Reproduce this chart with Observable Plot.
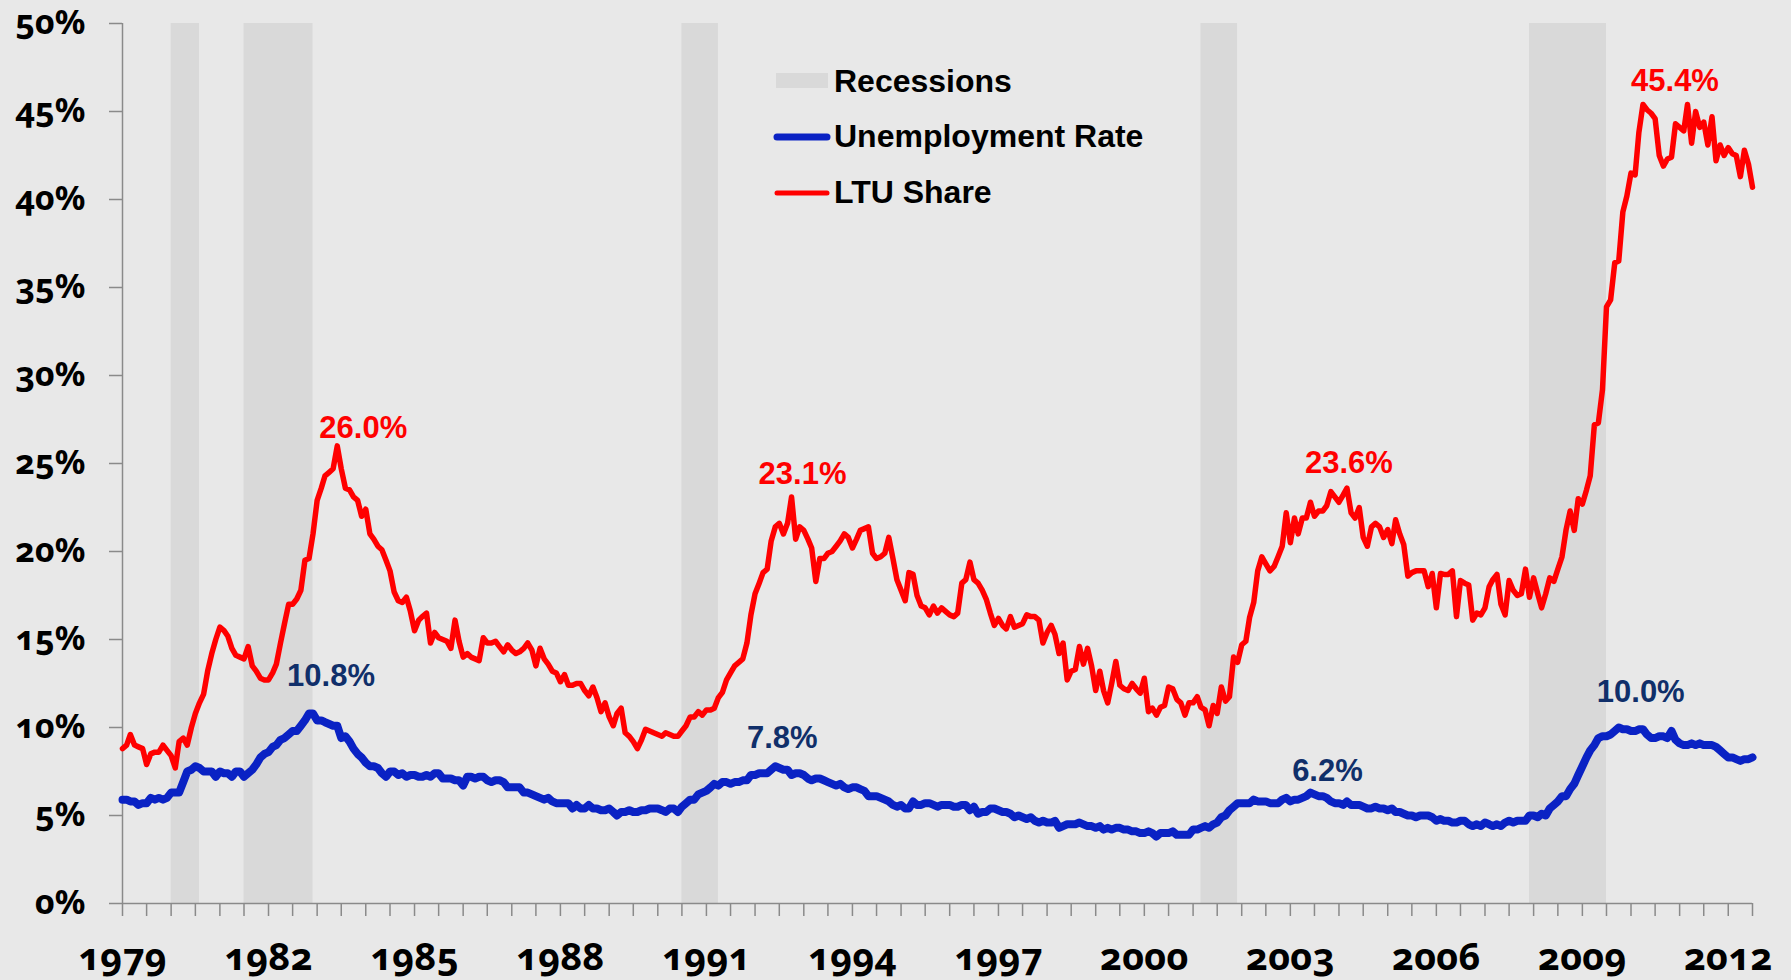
<!DOCTYPE html>
<html><head><meta charset="utf-8">
<script src="https://cdn.jsdelivr.net/npm/d3@7"></script>
<script src="https://cdn.jsdelivr.net/npm/@observablehq/plot@0.6"></script>
<style>
body{margin:0;background:#e8e8e8;}
#chart{position:relative;width:1791px;height:980px;overflow:hidden;}
#chart svg{display:block;}
g[aria-label="x-axis tick label"] text, g[aria-label="y-axis tick label"] text{font-variant-numeric:oldstyle-nums;font-feature-settings:"onum" 1;}
#legend{position:absolute;left:0;top:0;}
</style></head><body><div id="chart"></div>
<script>
// ---- data ----
const startMonth = "1979-01";
const endMonth = "2012-07";

// Unemployment rate (%), monthly Jan 1979 - Jul 2012
const unemploymentRate = [
  5.9,5.9,5.8,5.8,5.6,5.7,5.7,6.0,5.9,6.0,5.9,6.0,        // 1979
  6.3,6.3,6.3,6.9,7.5,7.6,7.8,7.7,7.5,7.5,7.5,7.2,        // 1980
  7.5,7.4,7.4,7.2,7.5,7.5,7.2,7.4,7.6,7.9,8.3,8.5,        // 1981
  8.6,8.9,9.0,9.3,9.4,9.6,9.8,9.8,10.1,10.4,10.8,10.8,    // 1982
  10.4,10.4,10.3,10.2,10.1,10.1,9.4,9.5,9.2,8.8,8.5,8.3,  // 1983
  8.0,7.8,7.8,7.7,7.4,7.2,7.5,7.5,7.3,7.4,7.2,7.3,        // 1984
  7.3,7.2,7.2,7.3,7.2,7.4,7.4,7.1,7.1,7.1,7.0,7.0,        // 1985
  6.7,7.2,7.2,7.1,7.2,7.2,7.0,6.9,7.0,7.0,6.9,6.6,        // 1986
  6.6,6.6,6.6,6.3,6.3,6.2,6.1,6.0,5.9,6.0,5.8,5.7,        // 1987
  5.7,5.7,5.7,5.4,5.6,5.4,5.4,5.6,5.4,5.4,5.3,5.3,        // 1988
  5.4,5.2,5.0,5.2,5.2,5.3,5.2,5.2,5.3,5.3,5.4,5.4,        // 1989
  5.4,5.3,5.2,5.4,5.4,5.2,5.5,5.7,5.9,5.9,6.2,6.3,        // 1990
  6.4,6.6,6.8,6.7,6.9,6.9,6.8,6.9,6.9,7.0,7.0,7.3,        // 1991
  7.3,7.4,7.4,7.4,7.6,7.8,7.7,7.6,7.6,7.3,7.4,7.4,        // 1992
  7.3,7.1,7.0,7.1,7.1,7.0,6.9,6.8,6.7,6.8,6.6,6.5,        // 1993
  6.6,6.6,6.5,6.4,6.1,6.1,6.1,6.0,5.9,5.8,5.6,5.5,        // 1994
  5.6,5.4,5.4,5.8,5.6,5.6,5.7,5.7,5.6,5.5,5.6,5.6,        // 1995
  5.6,5.5,5.5,5.6,5.6,5.3,5.5,5.1,5.2,5.2,5.4,5.4,        // 1996
  5.3,5.2,5.2,5.1,4.9,5.0,4.9,4.8,4.9,4.7,4.6,4.7,        // 1997
  4.6,4.6,4.7,4.3,4.4,4.5,4.5,4.5,4.6,4.5,4.4,4.4,        // 1998
  4.3,4.4,4.2,4.3,4.2,4.3,4.3,4.2,4.2,4.1,4.1,4.0,        // 1999
  4.0,4.1,4.0,3.8,4.0,4.0,4.0,4.1,3.9,3.9,3.9,3.9,        // 2000
  4.2,4.2,4.3,4.4,4.3,4.5,4.6,4.9,5.0,5.3,5.5,5.7,        // 2001
  5.7,5.7,5.7,5.9,5.8,5.8,5.8,5.7,5.7,5.7,5.9,6.0,        // 2002
  5.8,5.9,5.9,6.0,6.1,6.3,6.2,6.1,6.1,6.0,5.8,5.7,        // 2003
  5.7,5.6,5.8,5.6,5.6,5.6,5.5,5.4,5.4,5.5,5.4,5.4,        // 2004
  5.3,5.4,5.2,5.2,5.1,5.0,5.0,4.9,5.0,5.0,5.0,4.9,        // 2005
  4.7,4.8,4.7,4.7,4.6,4.6,4.7,4.7,4.5,4.4,4.5,4.4,        // 2006
  4.6,4.5,4.4,4.5,4.4,4.6,4.7,4.6,4.7,4.7,4.7,5.0,        // 2007
  5.0,4.9,5.1,5.0,5.4,5.6,5.8,6.1,6.1,6.5,6.8,7.3,        // 2008
  7.8,8.3,8.7,9.0,9.4,9.5,9.5,9.6,9.8,10.0,9.9,9.9,       // 2009
  9.8,9.8,9.9,9.9,9.6,9.4,9.4,9.5,9.5,9.4,9.8,9.3,        // 2010
  9.1,9.0,9.0,9.1,9.0,9.1,9.0,9.0,9.0,8.9,8.7,8.5,        // 2011
  8.3,8.3,8.2,8.1,8.2,8.2,8.3                             // 2012
];

// Long-term unemployed share of unemployed (%), monthly Jan 1979 - Jul 2012
const ltuShare = [
  8.8,9.0,9.6,9.0,8.9,8.8,7.9,8.5,8.6,8.6,9.0,8.7,               // 1979
  8.4,7.7,9.2,9.4,9.0,10.0,10.8,11.4,11.9,13.2,14.2,15.0,        // 1980
  15.7,15.5,15.2,14.5,14.1,14.0,13.9,14.6,13.5,13.2,12.8,12.7,   // 1981
  12.7,13.1,13.6,14.8,15.9,17.0,17.0,17.3,17.8,19.5,19.6,21.0,   // 1982
  22.9,23.6,24.3,24.5,24.7,26.0,24.7,23.6,23.5,23.1,22.9,22.0,   // 1983
  22.4,21.0,20.7,20.3,20.1,19.5,18.9,17.7,17.2,17.1,17.4,16.6,   // 1984
  15.5,16.1,16.3,16.5,14.8,15.4,15.1,15.0,14.9,14.5,16.1,14.9,   // 1985
  14.0,14.2,14.0,13.9,13.8,15.1,14.8,14.8,14.9,14.6,14.3,14.7,   // 1986
  14.4,14.2,14.3,14.5,14.8,14.4,13.5,14.5,13.9,13.6,13.2,13.1,   // 1987
  12.6,13.0,12.4,12.4,12.5,12.5,12.1,11.8,12.3,11.7,10.9,11.4,   // 1988
  10.6,10.1,10.8,11.1,9.7,9.5,9.2,8.8,9.3,9.9,9.8,9.7,           // 1989
  9.6,9.5,9.7,9.6,9.5,9.5,9.8,10.1,10.6,10.6,10.9,10.7,          // 1990
  11.0,11.0,11.1,11.7,12.0,12.7,13.1,13.5,13.7,13.9,14.8,16.4,   // 1991
  17.6,18.2,18.8,19.0,20.6,21.4,21.6,21.0,21.6,23.1,20.7,21.4,   // 1992
  21.2,20.7,20.2,18.3,19.6,19.6,19.9,20.0,20.3,20.6,21.0,20.8,   // 1993
  20.2,20.7,21.2,21.3,21.4,19.9,19.6,19.7,19.9,20.8,19.6,18.4,   // 1994
  17.8,17.2,18.8,18.7,17.5,16.9,16.8,16.4,16.9,16.5,16.8,16.6,   // 1995
  16.4,16.3,16.5,18.2,18.4,19.4,18.4,18.2,17.8,17.3,16.5,15.8,   // 1996
  16.2,15.8,15.6,16.3,15.7,15.8,15.9,16.4,16.3,16.3,16.1,14.8,   // 1997
  15.4,15.8,15.3,14.2,14.8,12.7,13.2,13.3,14.6,13.6,14.5,13.5,   // 1998
  12.1,13.2,12.1,11.4,12.5,13.75,12.4,12.2,12.1,12.5,12.2,11.95, // 1999
  12.8,10.9,11.1,10.7,11.15,11.25,12.3,12.2,11.6,11.4,10.7,11.4, // 2000
  11.4,11.75,11.15,11.0,10.1,11.25,10.8,12.3,11.5,11.75,14.0,13.7, // 2001
  14.7,14.9,16.25,17.1,18.9,19.7,19.3,18.9,19.15,19.7,20.3,22.2, // 2002
  20.5,21.9,21.0,21.9,21.9,22.8,22.0,22.3,22.3,22.6,23.4,23.1,   // 2003
  22.8,23.2,23.6,22.2,21.9,22.5,20.8,20.3,21.4,21.6,21.4,20.8,   // 2004
  21.25,20.45,21.8,21.0,20.4,18.6,18.8,18.9,18.9,18.9,18.0,18.75, // 2005
  16.8,18.75,18.7,18.7,18.9,16.3,18.35,18.2,18.1,16.1,16.5,16.4, // 2006
  16.8,18.0,18.4,18.7,17.0,16.4,18.35,17.8,17.5,17.6,19.0,17.4,  // 2007
  18.5,17.6,16.8,17.6,18.5,18.3,19.0,19.7,21.25,22.3,21.2,23.0,  // 2008
  22.7,23.5,24.3,27.2,27.3,29.2,33.9,34.3,36.4,36.5,39.3,40.2,   // 2009
  41.5,41.4,43.8,45.4,45.1,44.9,44.6,42.5,41.9,42.3,42.4,44.3,   // 2010
  44.1,43.9,45.4,43.2,45.0,44.1,44.4,43.1,44.7,42.2,43.1,42.5,   // 2011
  42.95,42.6,42.5,41.3,42.8,42.0,40.7                            // 2012
];

// NBER recessions: first month, first month after the trough
const recessionStart = ["1980-01","1981-07","1990-07","2001-03","2007-12"];
const recessionEnd   = ["1980-08","1982-12","1991-04","2001-12","2009-07"];

const yTickValues = [0,5,10,15,20,25,30,35,40,45,50];
const xLabelYears = [1979,1982,1985,1988,1991,1994,1997,2000,2003,2006,2009,2012];

const legendLabels = ["Recessions","Unemployment Rate","LTU Share"];

// Peak annotations
const annoText  = ["26.0%","10.8%","23.1%","7.8%","23.6%","6.2%","45.4%","10.0%"];
const annoMonth = ["1983-06","1982-11","1992-10","1992-06","2004-03","2003-06","2010-04","2009-10"];
const annoSeries= ["ltu","ur","ltu","ur","ltu","ur","ltu","ur"];

// ---- build ----
const parseM = d3.utcParse("%Y-%m");
const x0 = parseM(startMonth), x1 = parseM(endMonth);
const months = d3.utcMonth.range(x0, d3.utcMonth.offset(x1, 1));
const urData = months.map((date, i) => ({date, v: unemploymentRate[i]}));
const ltuData = months.map((date, i) => ({date, v: ltuShare[i]}));
const recessions = recessionStart.map((s, i) => ({start: parseM(s), end: parseM(recessionEnd[i])}));
const halfYearTicks = d3.utcMonth.every(6).range(x0, d3.utcMonth.offset(x1, 1));
const yearTicks = xLabelYears.map(y => new Date(Date.UTC(y, 0, 1)));

const annoOffsets = [[26,-8],[22,-27],[11,-13],[7,-18],[2,-15],[17,-12],[32,-13],[22,-26]];
const annos = annoText.map((t, i) => {
  const date = parseM(annoMonth[i]);
  const src = annoSeries[i] === "ltu" ? ltuData : urData;
  const rec = src.find(d => +d.date === +date);
  return {text: t, date, v: rec.v, series: annoSeries[i], dx: annoOffsets[i][0], dy: annoOffsets[i][1]};
});

const RED = "#ff0000", BLUE = "#0a22c4", NAVY = "#102f6a", AXIS = "#8a8a8a", BAND = "#d9d9d9";
const TICKFONT = "'Noto Sans', Lato, sans-serif";

const annoMarks = annos.map(a => Plot.text([a], {
  x: "date", y: "v", text: "text", dx: a.dx, dy: a.dy,
  lineAnchor: "bottom", textAnchor: "middle",
  fill: a.series === "ltu" ? RED : NAVY,
  fontSize: 31, fontWeight: "bold", fontFamily: "Liberation Sans, Arial, sans-serif"
}));

const chart = Plot.plot({
  width: 1791, height: 980,
  marginLeft: 122, marginRight: 39, marginTop: 23, marginBottom: 77,
  style: {background: "#e8e8e8", fontFamily: TICKFONT, color: "black", overflow: "visible"},
  x: {type: "utc", domain: [x0, x1], label: null},
  y: {domain: [0, 50], label: null},
  marks: [
    Plot.rect(recessions, {x1: "start", x2: "end", y1: 0, y2: 50, fill: BAND}),
    Plot.ruleX([x0], {stroke: AXIS, strokeWidth: 1.5}),
    Plot.ruleY([0], {stroke: AXIS, strokeWidth: 1.5}),
    Plot.axisY({ticks: yTickValues, label: null, tickSize: 13, tickPadding: 24, stroke: AXIS, strokeWidth: 1.5, fill: "black",
      tickFormat: d => d + "%", fontSize: 34, fontWeight: "bold", fontFamily: TICKFONT, fontVariant: "oldstyle-nums"}),
    Plot.axisX({ticks: halfYearTicks, label: null, tickSize: 13, stroke: AXIS, strokeWidth: 1.5, tickFormat: () => ""}),
    Plot.axisX({ticks: yearTicks, label: null, tickSize: 0, tickPadding: 40, fill: "black",
      tickFormat: d => String(d.getUTCFullYear()), fontSize: 38, fontWeight: "bold", fontFamily: TICKFONT, fontVariant: "oldstyle-nums"}),
    Plot.line(urData, {x: "date", y: "v", stroke: BLUE, strokeWidth: 8, strokeLinejoin: "round", strokeLinecap: "round"}),
    Plot.line(ltuData, {x: "date", y: "v", stroke: RED, strokeWidth: 5.5, strokeLinejoin: "round", strokeLinecap: "round"}),
    ...annoMarks
  ]
});
document.getElementById("chart").appendChild(chart);

// legend overlay
const lg = d3.select("#chart").append("svg").attr("id", "legend").attr("width", 1791).attr("height", 980);
const rowBase = [92, 147, 203];
legendLabels.forEach((label, i) => {
  const g = lg.append("g");
  if (i === 0) {
    g.append("rect").attr("x", 776).attr("y", rowBase[i] - 19).attr("width", 52).attr("height", 15).attr("fill", BAND);
  } else {
    g.append("line").attr("x1", 777).attr("x2", 827).attr("y1", rowBase[i] - 10).attr("y2", rowBase[i] - 10)
      .attr("stroke", i === 1 ? BLUE : RED).attr("stroke-width", i === 1 ? 7 : 5).attr("stroke-linecap", "round");
  }
  g.append("text").attr("x", 834).attr("y", rowBase[i]).text(label)
    .attr("font-family", "Liberation Sans, Arial, sans-serif").attr("font-weight", "bold").attr("font-size", 32).attr("fill", "black");
});
</script></body></html>
